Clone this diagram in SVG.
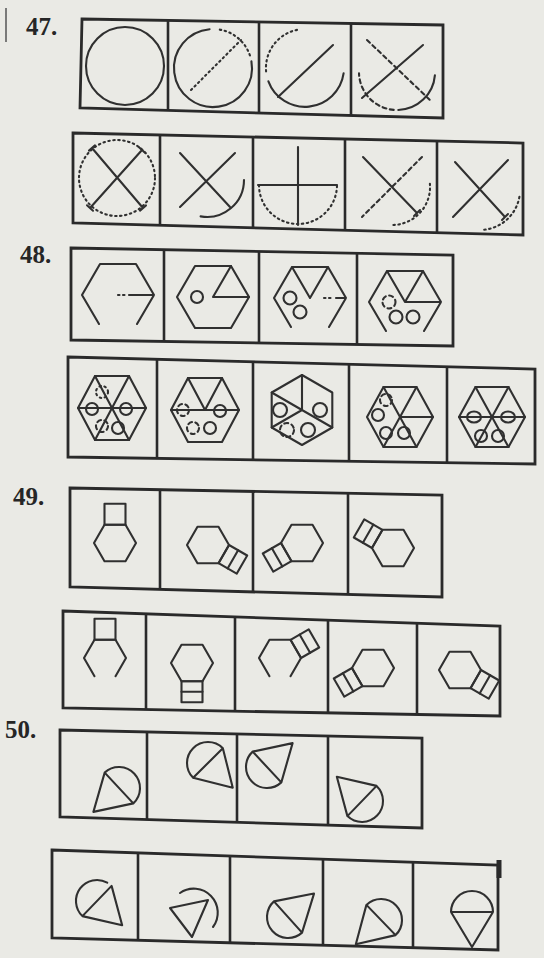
<svg xmlns="http://www.w3.org/2000/svg" width="544" height="958" viewBox="0 0 544 958">
<style>
.bg{fill:#eaeae5}
.box{fill:none;stroke:#2a2a2a;stroke-width:2.8;stroke-linejoin:miter}
.dv{stroke:#2a2a2a;stroke-width:2.6}
.ln{fill:none;stroke:#303030;stroke-width:2.1;stroke-linecap:round;stroke-linejoin:round}
.dot{stroke-dasharray:1.5 3.5}
.dash{stroke-dasharray:4 3.5}
.num{font-family:"Liberation Serif",serif;font-weight:bold;font-size:25px;fill:#262626}
</style>
<defs>
<g id="hexsq" class="ln"><polygon points="21,0 10.5,18.2 -10.5,18.2 -21,0 -10.5,-18.2 10.5,-18.2"/><rect x="-10.5" y="-39.2" width="21" height="21"/></g>
<g id="hexsq2" class="ln"><polygon points="21,0 10.5,18.2 -10.5,18.2 -21,0 -10.5,-18.2 10.5,-18.2"/><rect x="-10.5" y="-39.2" width="21" height="21"/><line x1="-10.5" y1="-28.7" x2="10.5" y2="-28.7"/></g>
<g id="cone" class="ln"><path d="M-21,0 A21,21 0 0 1 21,0 L0,35 Z M-21,0 L21,0"/></g>
</defs>
<rect class="bg" x="0" y="0" width="544" height="958"/>
<line x1="6" y1="8" x2="6" y2="42" stroke="#555" stroke-width="1.5"/>

<text class="num" x="26" y="35">47.</text>
<text class="num" x="20" y="263">48.</text>
<text class="num" x="13" y="505">49.</text>
<text class="num" x="5" y="738">50.</text>

<g id="frames">
<polygon class="box" points="82,19 443,25 443,118 80,108"/>
<line class="dv" x1="168" y1="20.5" x2="168" y2="110.8"/><line class="dv" x1="259" y1="22" x2="259" y2="112.9"/><line class="dv" x1="351" y1="23.5" x2="351" y2="115.4"/>
<polygon class="box" points="73,133 523,143 523,235 73,223"/>
<line class="dv" x1="160" y1="134.9" x2="160" y2="225.3"/><line class="dv" x1="253" y1="137" x2="253" y2="227.8"/><line class="dv" x1="345" y1="139" x2="345" y2="230.3"/><line class="dv" x1="437" y1="141.1" x2="437" y2="232.7"/>
<polygon class="box" points="71,248 453,255 453,346 71,340"/>
<line class="dv" x1="164" y1="249.7" x2="164" y2="341.5"/><line class="dv" x1="259" y1="251.4" x2="259" y2="343"/><line class="dv" x1="357" y1="253.2" x2="357" y2="344.5"/>
<polygon class="box" points="68,357 535,369 535,464 68,457"/>
<line class="dv" x1="157" y1="359.3" x2="157" y2="458.3"/><line class="dv" x1="253" y1="361.8" x2="253" y2="459.8"/><line class="dv" x1="349" y1="364.2" x2="349" y2="461.2"/><line class="dv" x1="447" y1="366.7" x2="447" y2="462.7"/>
<polygon class="box" points="70,488 442,495 442,597 70,587"/>
<line class="dv" x1="160" y1="489.7" x2="160" y2="589.4"/><line class="dv" x1="253" y1="491.4" x2="253" y2="591.9"/><line class="dv" x1="348" y1="493.2" x2="348" y2="594.5"/>
<polygon class="box" points="63,611 500,626 500,716 63,708"/>
<line class="dv" x1="146" y1="613.8" x2="146" y2="709.5"/><line class="dv" x1="235" y1="616.9" x2="235" y2="711.1"/><line class="dv" x1="328" y1="620.1" x2="328" y2="712.9"/><line class="dv" x1="417" y1="623.2" x2="417" y2="714.5"/>
<polygon class="box" points="60,730 422,738 422,828 60,817"/>
<line class="dv" x1="147" y1="731.9" x2="147" y2="819.6"/><line class="dv" x1="237" y1="733.9" x2="237" y2="822.4"/><line class="dv" x1="328" y1="735.9" x2="328" y2="825.1"/>
<polygon class="box" points="52,850 498,865 498,950 52,938"/>
<line class="dv" x1="138" y1="852.9" x2="138" y2="940.3"/><line class="dv" x1="230" y1="856" x2="230" y2="942.8"/><line class="dv" x1="323" y1="859.1" x2="323" y2="945.3"/><line class="dv" x1="413" y1="862.1" x2="413" y2="947.7"/>
<line x1="499" y1="860" x2="499" y2="878" stroke="#2a2a2a" stroke-width="5"/>
</g>

<!-- 47 -->
<g id="p47a1"><circle class="ln" cx="125" cy="66" r="39"/></g>
<g id="p47a2"><path class="ln" d="M251.4,61.2 A39,39 0 1 1 209.6,29.2"/><path class="ln dot" d="M219.8,29.6 A39,39 0 0 1 250.7,57.9"/><path class="ln dot" d="M191,90 L241,40"/></g>
<g id="p47a3"><path class="ln" d="M343.6,73.4 A39,39 0 0 1 268.4,81.3"/><path class="ln dot" d="M266.1,71.4 A39,39 0 0 1 299.6,29.4"/><path class="ln" d="M278,97 L333,45"/></g>
<g id="p47a4"><path class="ln" d="M434.9,75.3 A38,38 0 0 1 398.3,110"/><path class="ln dash" d="M393.7,109.9 A38,38 0 0 1 359,73.3"/><path class="ln" d="M362,98 L423,45"/><path class="ln dash" d="M367,40 L430,100"/></g>

<g id="p47b1"><circle class="ln dot" cx="117" cy="178" r="38"/><path class="ln" d="M92,148 L143,208 M142,150 L90,208 M89,150.6 L95,145.4 M140,210.6 L146,205.4 M139,147.3 L145,152.7 M87,205.3 L93,210.7"/></g>
<g id="p47b2"><path class="ln" d="M180,153 L230,207 M235,153 L180,207 M244,180 A37,37 0 0 1 200.6,216.4"/></g>
<g id="p47b3"><path class="ln" d="M258,185 L337,185 M298,147 L298,225"/><path class="ln dot" d="M259,185 A39,39 0 0 0 337,185"/></g>
<g id="p47b4"><path class="ln" d="M363,157 L417,213 M414,216 L420,210"/><path class="ln dash" d="M422,157 L362,217"/><path class="ln dot" d="M429.9,183.7 A38,38 0 0 1 392,225"/></g>
<g id="p47b5"><path class="ln" d="M455,162 L505,217 M508,160 L453,217 M502,220 L508,214"/><path class="ln dot" d="M519.4,196.9 A40,40 0 0 1 482.1,229.9"/></g>

<!-- 48 -->
<g id="p48a1"><path class="ln" d="M99,324 L82,295 L100,264 L136,264 L154,295 L137,324 M129,295 L154,295"/><path class="ln dot" d="M118,295 L127,295"/></g>
<g id="p48a2"><polygon class="ln" points="249,297 231,328 195,328 177,297 195,266 231,266"/><path class="ln" d="M213,297 L249,297 M213,297 L231,266"/><circle class="ln" cx="197" cy="297" r="6"/></g>
<g id="p48a3"><path class="ln" d="M291,327 L274,298 L292,267 L328,267 L346,298 L329,327 M292,267 L310,298 L328,267 M336,298 L346,298"/><path class="ln dot" d="M324,298 L334,298"/><circle class="ln" cx="290" cy="298" r="6.5"/><circle class="ln" cx="300" cy="312" r="6.5"/></g>
<g id="p48a4"><path class="ln" d="M386,331 L369,302 L387,271 L423,271 L441,302 L424,331 M387,271 L405,302 L423,271 M405,302 L441,302"/><circle class="ln dash" cx="389" cy="302" r="6.5"/><circle class="ln" cx="396" cy="317" r="6.5"/><circle class="ln" cx="413" cy="317" r="6.5"/></g>

<g id="p48b1"><polygon class="ln" points="146,408 129,440 95,440 78,408 95,376 129,376"/><path class="ln" d="M78,408 L146,408 M95,376 L112,408 L129,376 M95,440 L112,408 L129,440"/><circle class="ln dot" cx="102" cy="392" r="6"/><circle class="ln" cx="92" cy="409" r="6"/><circle class="ln" cx="126" cy="409" r="6"/><circle class="ln dash" cx="102" cy="426" r="6"/><circle class="ln" cx="118" cy="428" r="6"/></g>
<g id="p48b2"><polygon class="ln" points="239,410 222,442 188,442 171,410 188,378 222,378"/><path class="ln" d="M171,410 L239,410 M188,378 L205,410 L222,378"/><circle class="ln dash" cx="183" cy="410" r="6"/><circle class="ln" cx="220" cy="411" r="6"/><circle class="ln dash" cx="193" cy="428" r="6"/><circle class="ln" cx="210" cy="428" r="6"/></g>
<g id="p48b3"><polygon class="ln" points="302,375 332.3,392.5 332.3,427.5 302,445 271.7,427.5 271.7,392.5"/><path class="ln" d="M302,375 L302,410 M271.7,392.5 L332.3,427.5 M271.7,427.5 L302,410"/><circle class="ln" cx="280" cy="410" r="7"/><circle class="ln" cx="320" cy="410" r="7"/><circle class="ln dash" cx="287" cy="430" r="7"/><circle class="ln" cx="308" cy="430" r="7"/></g>
<g id="p48b4"><polygon class="ln" points="433,417 416.5,447 383.5,447 367,417 383.5,387 416.5,387"/><path class="ln" d="M383.5,387 L400,417 L416.5,387 M400,417 L433,417 M383.5,447 L400,417 L416.5,447"/><circle class="ln dash" cx="386" cy="400" r="6"/><circle class="ln" cx="378" cy="415" r="6"/><circle class="ln" cx="386" cy="433" r="6"/><circle class="ln" cx="404" cy="433" r="6"/></g>
<g id="p48b5"><polygon class="ln" points="525,417 508.5,447 475.5,447 459,417 475.5,387 508.5,387"/><path class="ln" d="M459,417 L525,417 M475.5,387 L492,417 L508.5,387 M475.5,447 L492,417 L508.5,447"/><ellipse class="ln" cx="474" cy="417" rx="7" ry="5.5"/><ellipse class="ln" cx="508" cy="417" rx="7" ry="5.5"/><circle class="ln" cx="481" cy="436" r="6"/><circle class="ln" cx="498" cy="436" r="6"/></g>

<!-- 49 -->
<g id="p49a1"><use href="#hexsq" transform="translate(115,543)"/></g>
<g id="p49a2"><use href="#hexsq2" transform="translate(208,545) rotate(120)"/></g>
<g id="p49a3"><use href="#hexsq2" transform="translate(302,543) rotate(-120)"/></g>
<g id="p49a4"><use href="#hexsq2" transform="translate(393,548) rotate(-60)"/></g>

<g id="p49b1" class="ln"><path d="M94.5,676.2 L84,658 L94.5,639.8 L115.5,639.8 L126,658 L115.5,676.2"/><rect x="94.5" y="618.8" width="21" height="21"/></g>
<g id="p49b2"><use href="#hexsq2" transform="translate(192,663) rotate(180)"/></g>
<g id="p49b3" class="ln" transform="translate(280,658) rotate(60)"><path d="M10.5,18.2 L-10.5,18.2 L-21,0 L-10.5,-18.2 L10.5,-18.2 L21,0"/><rect x="-10.5" y="-39.2" width="21" height="21"/><line x1="-10.5" y1="-28.7" x2="10.5" y2="-28.7"/></g>
<g id="p49b4"><use href="#hexsq2" transform="translate(373,668) rotate(-120)"/></g>
<g id="p49b5"><use href="#hexsq2" transform="translate(460,670) rotate(120)"/></g>

<!-- 50 -->
<g id="p50a1"><use href="#cone" transform="translate(119,788) rotate(47)"/></g>
<g id="p50a2"><use href="#cone" transform="translate(208,763) rotate(-45)"/></g>
<g id="p50a3"><use href="#cone" transform="translate(267,767) rotate(-133)"/></g>
<g id="p50a4"><use href="#cone" transform="translate(362,801) rotate(134)"/></g>

<g id="p50b1" class="ln" transform="translate(97,901) rotate(-46)"><path d="M-21,0 A21,21 0 0 1 20.3,-5.4 M-21,0 L21,0 L0,35 Z"/></g>
<g id="p50b2" class="ln"><path d="M170,908 L208,900 L192,937 Z M180,893 A24,24 0 0 1 213,927"/></g>
<g id="p50b3"><use href="#cone" transform="translate(288,917) rotate(-132)"/></g>
<g id="p50b4"><use href="#cone" transform="translate(381,920) rotate(46)"/></g>
<g id="p50b5"><use href="#cone" transform="translate(472,912)"/></g>
</svg>
